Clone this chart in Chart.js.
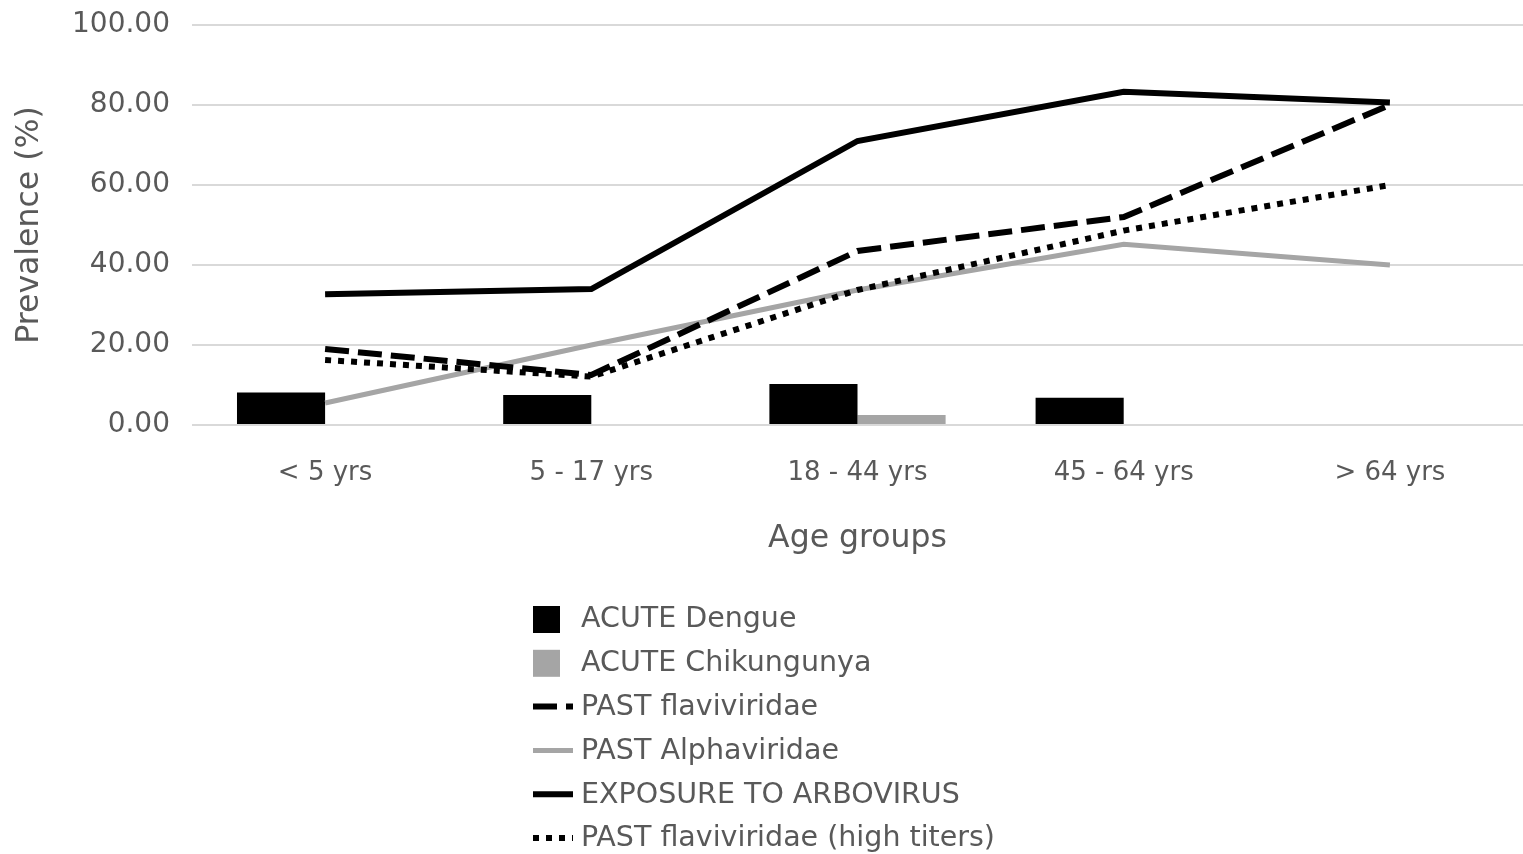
<!DOCTYPE html>
<html>
<head>
<meta charset="utf-8">
<script src="https://cdn.jsdelivr.net/npm/chart.js@4.4.1/dist/chart.umd.min.js"></script>
<style>
  body { margin: 0; background: #fff; }
  #wrap { width: 1523px; height: 854px; }
</style>
</head>
<body>
<div id="wrap"><canvas id="chart"></canvas></div>
<script>
const ageGroups = ["< 5 yrs", "5 - 17 yrs", "18 - 44 yrs", "45 - 64 yrs", "> 64 yrs"];
const acuteDengue = [8.1, 7.5, 10.25, 6.8, 0];
const acuteChikungunya = [0, 0, 2.5, 0, 0];
const pastFlaviviridae = [19, 12.5, 43.5, 52, 80];
const pastAlphaviridae = [5.5, 20, 33.75, 45.2, 40];
const exposureArbovirus = [32.7, 34, 71, 83.3, 80.6];
const pastFlaviHighTiters = [16.25, 12.1, 33.75, 48.6, 60];
const yTicks = [0, 20, 40, 60, 80, 100];

const textGray = "#595959";
const fontFamily = "'DejaVu Sans', sans-serif";

// legend drawn as a vertical list below the axis title
const legendList = {
  id: "legendList",
  afterDraw(chart) {
    const ctx = chart.ctx;
    ctx.save();
    ctx.font = "28.5px " + fontFamily;
    ctx.textBaseline = "middle";
    chart.data.datasets.forEach((ds, row) => {
      const y = 619 + row * 43.8;
      const x = 533;
      if (ds.type === "bar") {
        ctx.fillStyle = ds.backgroundColor;
        ctx.fillRect(x, y - 13, 27, 27);
      } else {
        ctx.strokeStyle = ds.borderColor;
        ctx.lineWidth = ds.borderWidth;
        ctx.setLineDash(ds.borderDash || []);
        ctx.lineCap = "butt";
        ctx.beginPath();
        ctx.moveTo(x, y);
        ctx.lineTo(x + 40, y);
        ctx.stroke();
        ctx.setLineDash([]);
      }
      ctx.fillStyle = textGray;
      ctx.fillText(ds.label, 581, y + 1);
    });
    ctx.restore();
  }
};

new Chart(document.getElementById("chart"), {
  data: {
    labels: ageGroups,
    datasets: [
      { type: "bar", label: "ACUTE Dengue", data: acuteDengue, backgroundColor: "#000000",
        categoryPercentage: 0.662, barPercentage: 1, order: 5 },
      { type: "bar", label: "ACUTE Chikungunya", data: acuteChikungunya, backgroundColor: "#a5a5a5",
        categoryPercentage: 0.662, barPercentage: 1, order: 6 },
      { type: "line", label: "PAST flaviviridae", data: pastFlaviviridae, borderColor: "#000000",
        borderWidth: 6, borderDash: [24, 9], pointRadius: 0, tension: 0, order: 3 },
      { type: "line", label: "PAST Alphaviridae", data: pastAlphaviridae, borderColor: "#a5a5a5",
        borderWidth: 5, pointRadius: 0, tension: 0, order: 4 },
      { type: "line", label: "EXPOSURE TO ARBOVIRUS", data: exposureArbovirus, borderColor: "#000000",
        borderWidth: 6, pointRadius: 0, tension: 0, order: 2 },
      { type: "line", label: "PAST flaviviridae (high titers)", data: pastFlaviHighTiters, borderColor: "#000000",
        borderWidth: 6, borderDash: [6, 7], pointRadius: 0, tension: 0, order: 1 }
    ]
  },
  options: {
    responsive: true,
    maintainAspectRatio: false,
    animation: false,
    layout: { padding: { top: 25, right: 0, bottom: 296, left: 0 } },
    plugins: { legend: { display: false }, tooltip: { enabled: false } },
    scales: {
      x: {
        offset: true,
        grid: { display: false },
        border: { display: false },
        ticks: { color: textGray, font: { family: fontFamily, size: 26 }, padding: 25, maxRotation: 0 },
        title: { display: true, text: "Age groups", color: textGray,
          font: { family: fontFamily, size: 31.5 }, padding: { top: 0, bottom: 0 } },
        afterFit(scale) { scale.height = 133; }
      },
      y: {
        min: 0,
        max: 100,
        afterBuildTicks(scale) { scale.ticks = yTicks.map(v => ({ value: v })); },
        grid: { color: "#d9d9d9", lineWidth: 2, drawTicks: false },
        border: { display: false },
        ticks: { color: textGray, font: { family: fontFamily, size: 28 }, padding: 22,
          callback: v => v.toFixed(2) },
        title: { display: true, text: "Prevalence (%)", color: textGray,
          font: { family: fontFamily, size: 31.5 }, padding: { top: 11, bottom: 0 } },
        afterFit(scale) { scale.width = 192; scale.paddingTop = 10; scale.paddingBottom = 10; }
      }
    }
  },
  plugins: [legendList]
});
</script>
</body>
</html>
